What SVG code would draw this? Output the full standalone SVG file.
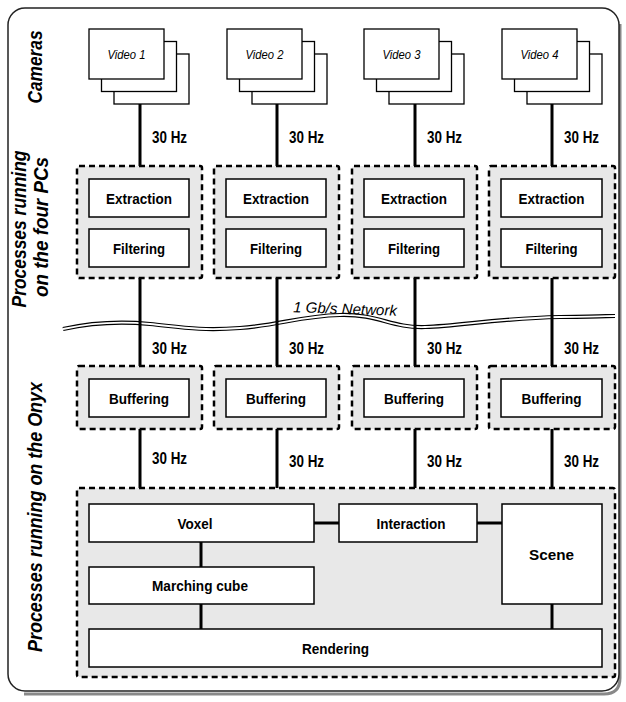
<svg xmlns="http://www.w3.org/2000/svg" width="626" height="702" viewBox="0 0 626 702">
<style>
.frame{fill:#fff;stroke:#222;stroke-width:1.5}
.shadow{fill:none;stroke:#888;stroke-width:3}
.grp{fill:#e8e8e8;stroke:#000;stroke-width:2.5;stroke-dasharray:6 4}
.box{fill:#fff;stroke:#000;stroke-width:1.5}
.vid{fill:#fff;stroke:#000;stroke-width:1.3}
.lbl{font-family:"Liberation Sans",Arial,sans-serif;font-weight:bold;font-size:15.5px;fill:#000;text-anchor:middle}
.hz{font-family:"Liberation Sans",Arial,sans-serif;font-weight:bold;font-size:16px;fill:#000}
.vt{font-family:"Liberation Sans",Arial,sans-serif;font-style:italic;font-size:12px;fill:#000;text-anchor:middle}
.side{font-family:"Liberation Sans",Arial,sans-serif;font-weight:bold;font-style:italic;font-size:20px;fill:#000;text-anchor:middle}
.net{font-family:"Liberation Sans",Arial,sans-serif;font-style:italic;font-size:15px;fill:#000}
.conn{stroke:#000;stroke-width:3;fill:none}
</style>
<rect x="0" y="0" width="626" height="702" fill="#fff"/>
<path class="shadow" d="M620,24 L620,678 Q620,694 604,694 L24,694"/>
<rect class="frame" x="8" y="8" width="611" height="683" rx="17"/>

<g id="side-labels">
<text class="side" transform="translate(42,67) rotate(-90)" textLength="73" lengthAdjust="spacingAndGlyphs">Cameras</text>
<text class="side" transform="translate(26,229) rotate(-90)" textLength="157" lengthAdjust="spacingAndGlyphs">Processes running</text>
<text class="side" transform="translate(48,227) rotate(-90)" textLength="140" lengthAdjust="spacingAndGlyphs">on the four PCs</text>
<text class="side" transform="translate(42,517) rotate(-90)" textLength="270" lengthAdjust="spacingAndGlyphs">Processes running on the Onyx</text>
</g>

<g id="network">
<path d="M63,329 C90,323 120,321 150,324 S200,331 240,328 S300,316 340,315 S390,328 425,327 S500,318 560,317 S600,316 615,316" fill="none" stroke="#000" stroke-width="4.2"/>
<path d="M63,329 C90,323 120,321 150,324 S200,331 240,328 S300,316 340,315 S390,328 425,327 S500,318 560,317 S600,316 615,316" fill="none" stroke="#fff" stroke-width="1.8"/>
<text class="net" x="293" y="314" transform="rotate(2,345,310)" textLength="104" lengthAdjust="spacingAndGlyphs">1 Gb/s Network</text>
</g>

<g id="video1">
<rect class="vid" x="114" y="54" width="75" height="50"/>
<rect class="vid" x="101.5" y="41.5" width="75" height="50"/>
<rect class="vid" x="89" y="29" width="75" height="50"/>
<text class="vt" x="126.5" y="58.5" textLength="38" lengthAdjust="spacingAndGlyphs">Video 1</text>
</g>
<g id="video2">
<rect class="vid" x="252" y="54" width="75" height="50"/>
<rect class="vid" x="239.5" y="41.5" width="75" height="50"/>
<rect class="vid" x="227" y="29" width="75" height="50"/>
<text class="vt" x="264.5" y="58.5" textLength="38" lengthAdjust="spacingAndGlyphs">Video 2</text>
</g>
<g id="video3">
<rect class="vid" x="389" y="54" width="75" height="50"/>
<rect class="vid" x="376.5" y="41.5" width="75" height="50"/>
<rect class="vid" x="364" y="29" width="75" height="50"/>
<text class="vt" x="401.5" y="58.5" textLength="38" lengthAdjust="spacingAndGlyphs">Video 3</text>
</g>
<g id="video4">
<rect class="vid" x="527" y="54" width="75" height="50"/>
<rect class="vid" x="514.5" y="41.5" width="75" height="50"/>
<rect class="vid" x="502" y="29" width="75" height="50"/>
<text class="vt" x="539.5" y="58.5" textLength="38" lengthAdjust="spacingAndGlyphs">Video 4</text>
</g>

<g id="pc1">
<rect class="grp" x="77" y="166" width="125" height="112" rx="2"/>
<rect class="box" x="89" y="179" width="100" height="38"/>
<text class="lbl" x="139" y="204" textLength="66" lengthAdjust="spacingAndGlyphs">Extraction</text>
<rect class="box" x="89" y="229" width="100" height="38"/>
<text class="lbl" x="139" y="254" textLength="52" lengthAdjust="spacingAndGlyphs">Filtering</text>
</g>
<g id="pc2">
<rect class="grp" x="214" y="166" width="125" height="112" rx="2"/>
<rect class="box" x="226" y="179" width="100" height="38"/>
<text class="lbl" x="276" y="204" textLength="66" lengthAdjust="spacingAndGlyphs">Extraction</text>
<rect class="box" x="226" y="229" width="100" height="38"/>
<text class="lbl" x="276" y="254" textLength="52" lengthAdjust="spacingAndGlyphs">Filtering</text>
</g>
<g id="pc3">
<rect class="grp" x="352" y="166" width="125" height="112" rx="2"/>
<rect class="box" x="364" y="179" width="100" height="38"/>
<text class="lbl" x="414" y="204" textLength="66" lengthAdjust="spacingAndGlyphs">Extraction</text>
<rect class="box" x="364" y="229" width="100" height="38"/>
<text class="lbl" x="414" y="254" textLength="52" lengthAdjust="spacingAndGlyphs">Filtering</text>
</g>
<g id="pc4">
<rect class="grp" x="489" y="166" width="126" height="112" rx="2"/>
<rect class="box" x="501" y="179" width="101" height="38"/>
<text class="lbl" x="551.5" y="204" textLength="66" lengthAdjust="spacingAndGlyphs">Extraction</text>
<rect class="box" x="501" y="229" width="101" height="38"/>
<text class="lbl" x="551.5" y="254" textLength="52" lengthAdjust="spacingAndGlyphs">Filtering</text>
</g>

<g id="buf1">
<rect class="grp" x="77" y="366" width="125" height="63" rx="2"/>
<rect class="box" x="89" y="379" width="100" height="38"/>
<text class="lbl" x="139" y="404" textLength="60" lengthAdjust="spacingAndGlyphs">Buffering</text>
</g>
<g id="buf2">
<rect class="grp" x="214" y="366" width="125" height="63" rx="2"/>
<rect class="box" x="226" y="379" width="100" height="38"/>
<text class="lbl" x="276" y="404" textLength="60" lengthAdjust="spacingAndGlyphs">Buffering</text>
</g>
<g id="buf3">
<rect class="grp" x="352" y="366" width="125" height="63" rx="2"/>
<rect class="box" x="364" y="379" width="100" height="38"/>
<text class="lbl" x="414" y="404" textLength="60" lengthAdjust="spacingAndGlyphs">Buffering</text>
</g>
<g id="buf4">
<rect class="grp" x="489" y="366" width="126" height="63" rx="2"/>
<rect class="box" x="501" y="379" width="101" height="38"/>
<text class="lbl" x="551.5" y="404" textLength="60" lengthAdjust="spacingAndGlyphs">Buffering</text>
</g>

<g id="onyx">
<rect class="grp" x="77" y="488" width="538" height="189" rx="2"/>
</g>
<g id="voxel"><rect class="box" x="89" y="504" width="225" height="38"/><text class="lbl" x="195" y="529" textLength="35" lengthAdjust="spacingAndGlyphs">Voxel</text></g>
<g id="interaction"><rect class="box" x="339" y="504" width="138" height="38"/><text class="lbl" x="411" y="529" textLength="69" lengthAdjust="spacingAndGlyphs">Interaction</text></g>
<g id="scene"><rect class="box" x="502" y="504" width="100" height="100"/><text class="lbl" x="551.5" y="560" textLength="45" lengthAdjust="spacingAndGlyphs">Scene</text></g>
<g id="marching"><rect class="box" x="89" y="567" width="225" height="37"/><text class="lbl" x="200" y="591" textLength="96" lengthAdjust="spacingAndGlyphs">Marching cube</text></g>
<g id="rendering"><rect class="box" x="89" y="629" width="513" height="38"/><text class="lbl" x="335.5" y="654" textLength="67" lengthAdjust="spacingAndGlyphs">Rendering</text></g>

<g id="connectors">
<path class="conn" d="M140,104V166M277,104V166M415,104V166M552,104V166"/>
<path class="conn" d="M140,278V366M277,278V366M415,278V366M552,278V366"/>
<path class="conn" d="M140,429V488M277,429V488M415,429V488M552,429V488"/>
<path class="conn" d="M201,542V567M201,604V629M552,604V629M314,523H339M477,523H502"/>
<text class="hz" x="152" y="143" textLength="35" lengthAdjust="spacingAndGlyphs">30 Hz</text>
<text class="hz" x="289" y="143" textLength="35" lengthAdjust="spacingAndGlyphs">30 Hz</text>
<text class="hz" x="427" y="143" textLength="35" lengthAdjust="spacingAndGlyphs">30 Hz</text>
<text class="hz" x="564" y="143" textLength="35" lengthAdjust="spacingAndGlyphs">30 Hz</text>
<text class="hz" x="152" y="354" textLength="35" lengthAdjust="spacingAndGlyphs">30 Hz</text>
<text class="hz" x="289" y="354" textLength="35" lengthAdjust="spacingAndGlyphs">30 Hz</text>
<text class="hz" x="427" y="354" textLength="35" lengthAdjust="spacingAndGlyphs">30 Hz</text>
<text class="hz" x="564" y="354" textLength="35" lengthAdjust="spacingAndGlyphs">30 Hz</text>
<text class="hz" x="152" y="464" textLength="35" lengthAdjust="spacingAndGlyphs">30 Hz</text>
<text class="hz" x="289" y="467" textLength="35" lengthAdjust="spacingAndGlyphs">30 Hz</text>
<text class="hz" x="427" y="467" textLength="35" lengthAdjust="spacingAndGlyphs">30 Hz</text>
<text class="hz" x="564" y="467" textLength="35" lengthAdjust="spacingAndGlyphs">30 Hz</text>
</g>
</svg>
